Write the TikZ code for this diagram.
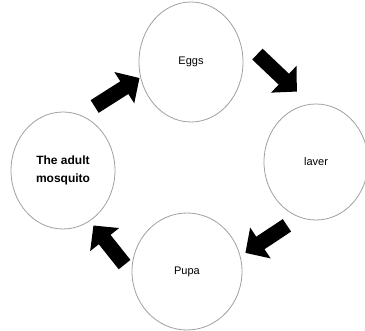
\documentclass[tikz,border=0pt]{standalone}
\usepackage{fontspec}
\setmainfont{Liberation Sans}
\usepackage{tikz}
\usetikzlibrary{shapes,shapes.geometric,arrows.meta,positioning,calc}

\begin{document}
\begin{tikzpicture}[
    x=1pt, y=-1pt,
    stage/.style={ellipse, draw=gray!75, line width=0.8pt, minimum width=104pt, minimum height=117pt, inner sep=0pt, align=center, font=\fontsize{11}{18}\selectfont},
    fatarrow/.style={-{Triangle[width=36pt,length=18pt]}, line width=15pt, black}
]
    \useasboundingbox (0,0) rectangle (365,331);

    % Life cycle stages
    \node[stage, minimum height=120pt] (eggs) at (191,62) {Eggs};
    \node[stage, minimum height=116pt] (laver) at (316,162) {laver};
    \node[stage, minimum width=110pt] (pupa) at (187,271.5) {Pupa};
    \node[stage, font=\fontsize{12}{18}\selectfont\bfseries] (adult) at (63,170.5) {The adult\\mosquito};

    % Arrows between stages
    \draw[fatarrow, shorten <=26.5pt, shorten >=18pt] (eggs.29) -- (laver.96);
    \draw[fatarrow, shorten <=14.6pt, shorten >=5.9pt] (laver.253) -- (pupa.16);
    \draw[fatarrow, shorten <=11.3pt, shorten >=5.7pt] (pupa.182) -- (adult.298);
    \draw[fatarrow, shorten <=16.2pt, shorten >=1pt] (adult.72) -- (eggs.197);
\end{tikzpicture}
\end{document}
